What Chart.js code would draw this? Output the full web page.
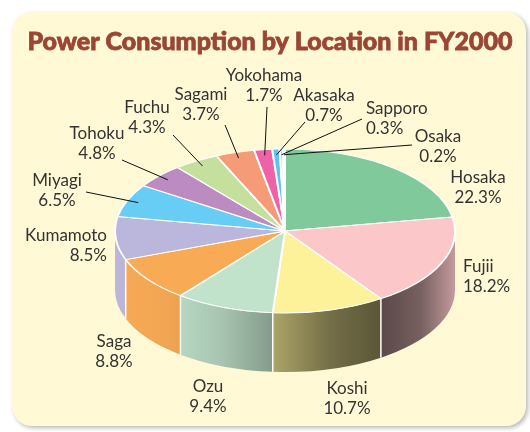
<!DOCTYPE html>
<html>
<head>
<meta charset="utf-8">
<script src="https://cdn.jsdelivr.net/npm/chart.js@4.4.1/dist/chart.umd.min.js"></script>
<style>
  html, body { margin: 0; padding: 0; background: #fff; }
  canvas { display: block; }
</style>
</head>
<body>
<canvas id="pieChart" width="530" height="432"></canvas>
<script>
const chartTitle = "Power Consumption by Location in FY2000";
const locations = ["Hosaka", "Fujii", "Koshi", "Ozu", "Saga", "Kumamoto", "Miyagi", "Tohoku", "Fuchu", "Sagami", "Yokohama", "Akasaka", "Sapporo", "Osaka"];
const shares = [22.3, 18.2, 10.7, 9.4, 8.8, 8.5, 6.5, 4.8, 4.3, 3.7, 1.7, 0.7, 0.3, 0.2];

const sliceColors = ["#80c99b", "#fbc7c8", "#fdf29a", "#c1e3cb", "#f8aa55", "#bbb6dc", "#68cdf4",
                     "#bb8bc1", "#c5df9c", "#f69b78", "#ee63a8", "#5ec4ee", "#c8c6e6", "#d4d4d4"];

// where the pie sits on the page (a flattened ellipse + a side wall)
const CX = 285, CY = 231, RX = 170, RY = 82, DEPTH = 59;

// shading of the side wall, left to right
const sideShade = [[0, 1.0], [0.16, 0.97], [0.32, 0.86], [0.45, 0.7], [0.63, 0.46], [0.78, 0.36], [0.9, 0.48], [1, 0.78]];

// label placement (hand placed, like the original)
const labelSpots = {
    Hosaka:   { x: 478, y: 178, align: "center" },
    Fujii:    { x: 463, y: 267, align: "left" },
    Koshi:    { x: 347, y: 389, align: "center" },
    Ozu:      { x: 208, y: 387, align: "center" },
    Saga:     { x: 114, y: 342, align: "center" },
    Kumamoto: { x: 107, y: 236, align: "right" },
    Miyagi:   { x: 57,  y: 181, align: "center", line: [86, 192] },
    Tohoku:   { x: 97,  y: 134, align: "center", line: [122, 160] },
    Fuchu:    { x: 147, y: 108, align: "center", line: [173, 135] },
    Sagami:   { x: 201, y: 95,  align: "center", line: [225, 125] },
    Yokohama: { x: 264, y: 76,  align: "center", line: [267, 107] },
    Akasaka:  { x: 324, y: 96,  align: "center", line: [305, 122] },
    Sapporo:  { x: 366, y: 109, align: "left",   line: [362, 119] },
    Osaka:    { x: 438, y: 137, align: "center", line: [412, 145] }
};

function shade(hex, f) {
    const n = parseInt(hex.slice(1), 16);
    const r = Math.round(((n >> 16) & 255) * f);
    const g = Math.round(((n >> 8) & 255) * f);
    const b = Math.round((n & 255) * f);
    return `rgb(${r},${g},${b})`;
}

const pie3d = {
    id: "pie3d",
    beforeDraw(chart) {
        const ctx = chart.ctx;
        ctx.save();
        ctx.fillStyle = "#fff";
        ctx.fillRect(0, 0, chart.width, chart.height);
        ctx.shadowColor = "rgba(0,0,0,0.28)";
        ctx.shadowBlur = 4;
        ctx.shadowOffsetX = 2;
        ctx.shadowOffsetY = 2;
        ctx.beginPath();
        ctx.roundRect(12, 12, 514, 414, 20);
        ctx.fillStyle = "#fff9d6";
        ctx.fill();
        ctx.restore();

        // title: heavy, a bit narrow, fitted to the width of the original
        ctx.save();
        ctx.font = "900 25px Lato";
        const w = ctx.measureText(chartTitle).width;
        ctx.translate(270, 50);
        ctx.scale(485 / w, 1);
        ctx.fillStyle = "#9a4633";
        ctx.strokeStyle = "#9a4633";
        ctx.lineWidth = 0.8;
        ctx.textAlign = "center";
        ctx.textBaseline = "alphabetic";
        ctx.fillText(chartTitle, 0, 0);
        ctx.strokeText(chartTitle, 0, 0);
        ctx.restore();
    },
    beforeDatasetsDraw(chart) {
        const ctx = chart.ctx;
        const arcs = chart.getDatasetMeta(0).data;
        ctx.save();
        // side walls of the front half
        arcs.forEach((arc, i) => {
            const a = Math.max(arc.startAngle, 0);
            const b = Math.min(arc.endAngle, Math.PI);
            if (a >= b) return;
            const grad = ctx.createLinearGradient(CX - RX, 0, CX + RX, 0);
            sideShade.forEach(([pos, f]) => grad.addColorStop(pos, shade(sliceColors[i], f)));
            ctx.beginPath();
            ctx.ellipse(CX, CY, RX, RY, 0, a, b);
            ctx.lineTo(CX + RX * Math.cos(b), CY + DEPTH + RY * Math.sin(b));
            ctx.ellipse(CX, CY + DEPTH, RX, RY, 0, b, a, true);
            ctx.closePath();
            ctx.fillStyle = grad;
            ctx.fill();
        });
        // white seams between the walls
        ctx.strokeStyle = "#fff";
        ctx.lineWidth = 1.5;
        arcs.forEach(arc => {
            const t = arc.startAngle;
            if (t > 0 && t < Math.PI) {
                const x = CX + RX * Math.cos(t), y = CY + RY * Math.sin(t);
                ctx.beginPath();
                ctx.moveTo(x, y);
                ctx.lineTo(x, y + DEPTH);
                ctx.stroke();
            }
        });
        ctx.restore();

        // flatten the round pie into the top ellipse
        const first = arcs[0];
        ctx.save();
        ctx.translate(CX, CY);
        ctx.scale(RX / first.outerRadius, RY / first.outerRadius);
        ctx.translate(-first.x, -first.y);
    },
    afterDatasetsDraw(chart) {
        chart.ctx.restore();
    },
    afterDraw(chart) {
        const ctx = chart.ctx;
        const arcs = chart.getDatasetMeta(0).data;
        ctx.save();
        ctx.font = "17px Lato";
        ctx.fillStyle = "#333";
        ctx.textBaseline = "middle";
        ctx.strokeStyle = "#111";
        ctx.lineWidth = 1;
        locations.forEach((name, i) => {
            const spot = labelSpots[name];
            ctx.textAlign = spot.align;
            ctx.fillText(name, spot.x, spot.y);
            ctx.fillText(shares[i].toFixed(1) + "%", spot.x, spot.y + 20);
            if (spot.line) {
                const arc = arcs[i];
                const mid = (arc.startAngle + arc.endAngle) / 2;
                const k = 0.93;
                ctx.beginPath();
                ctx.moveTo(spot.line[0], spot.line[1]);
                ctx.lineTo(CX + k * RX * Math.cos(mid), CY + k * RY * Math.sin(mid));
                ctx.stroke();
            }
        });
        ctx.restore();
    }
};

new Chart(document.getElementById("pieChart"), {
    type: "pie",
    data: {
        labels: locations,
        datasets: [{
            data: shares,
            backgroundColor: sliceColors,
            borderColor: "#fff",
            borderWidth: 2,
            clip: false
        }]
    },
    options: {
        responsive: false,
        animation: false,
        events: [],
        layout: { padding: { left: 115, right: 75, top: 46, bottom: 46 } },
        plugins: {
            legend: { display: false },
            tooltip: { enabled: false },
            title: { display: false }
        }
    },
    plugins: [pie3d]
});
</script>
</body>
</html>
